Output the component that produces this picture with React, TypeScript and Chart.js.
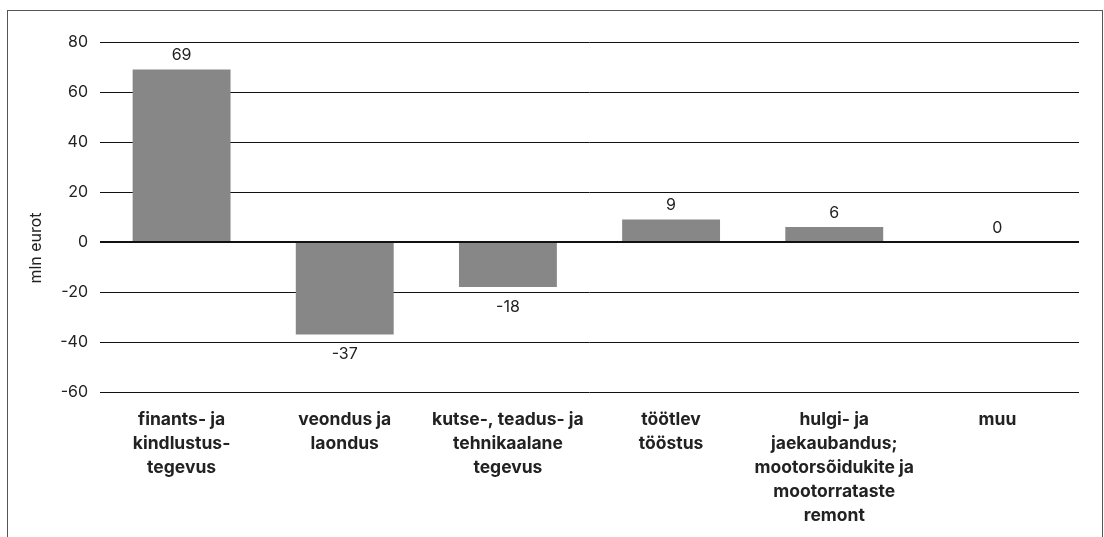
import React, { useEffect, useRef } from "react";
import { Chart, registerables } from "chart.js";

Chart.register(...registerables);

const categories: string[][] = [
  ["finants- ja", "kindlustus-", "tegevus"],
  ["veondus ja", "laondus"],
  ["kutse-, teadus- ja", "tehnikaalane", "tegevus"],
  ["töötlev", "tööstus"],
  ["hulgi- ja", "jaekaubandus;", "mootorsõidukite ja", "mootorrataste", "remont"],
  ["muu"],
];
const values: number[] = [69, -37, -18, 9, 6, 0];
const yMin = -60;
const yMax = 80;
const yStep = 20;
const yTitle = "mln eurot";

const FONT = "Inter, 'Liberation Sans', Arial, sans-serif";
const TEXT = "#222222";

const decorPlugin = {
  id: "decor",
  beforeDraw(chart: any) {
    const ctx = chart.ctx;
    ctx.save();
    ctx.fillStyle = "#ffffff";
    ctx.fillRect(0, 0, chart.width, chart.height);
    ctx.strokeStyle = "#555555";
    ctx.lineWidth = 1;
    ctx.strokeRect(7.5, 10.5, 1095, 700);
    ctx.restore();
  },
  afterDatasetsDraw(chart: any) {
    const ctx = chart.ctx;
    const meta = chart.getDatasetMeta(0);
    ctx.save();
    ctx.font = `16px ${FONT}`;
    ctx.fillStyle = TEXT;
    ctx.textAlign = "center";
    ctx.textBaseline = "middle";
    meta.data.forEach((bar: any, i: number) => {
      const v = values[i];
      const y = v >= 0 ? bar.y - 14 : bar.y + 20;
      ctx.fillText(String(v), bar.x, y);
    });
    // y title
    ctx.translate(36, 248);
    ctx.rotate(-Math.PI / 2);
    ctx.fillText(yTitle, 0, 0);
    ctx.restore();
  },
};

export default function App() {
  const ref = useRef<HTMLCanvasElement | null>(null);
  useEffect(() => {
    if (!ref.current) return;
    const chart = new Chart(ref.current, {
      type: "bar",
      data: {
        labels: categories,
        datasets: [
          {
            data: values,
            backgroundColor: "#878787",
            borderWidth: 0,
            barPercentage: 0.6,
            categoryPercentage: 1,
          },
        ],
      },
      options: {
        animation: false,
        responsive: false,
        maintainAspectRatio: false,
        layout: { padding: { left: 8, right: 25, top: 42, bottom: 0 } },
        plugins: {
          legend: { display: false },
          tooltip: { enabled: false },
        },
        scales: {
          x: {
            grid: { display: false, drawTicks: false },
            border: { display: false },
            ticks: {
              color: TEXT,
              font: { family: FONT, size: 17.5, weight: "bold", lineHeight: "24px" },
              padding: 16,
              maxRotation: 0,
              autoSkip: false,
            },
            afterFit: (axis: any) => {
              axis.height = 145;
            },
          },
          y: {
            min: yMin,
            max: yMax,
            grid: {
              color: "#111111",
              lineWidth: (c: any) => (c.tick && c.tick.value === 0 ? 2 : 1),
              drawTicks: false,
            },
            border: { display: false },
            ticks: {
              stepSize: yStep,
              color: TEXT,
              font: { family: FONT, size: 16 },
              padding: 12,
            },
            afterFit: (axis: any) => {
              axis.width = 92;
            },
          },
        },
      },
      plugins: [decorPlugin],
    });
    return () => chart.destroy();
  }, []);
  return (
    <div style={{ position: "fixed", left: 0, top: 0, width: 1104, height: 537 }}>
      <canvas ref={ref} width={1104} height={537} style={{ width: 1104, height: 537 }} />
    </div>
  );
}
